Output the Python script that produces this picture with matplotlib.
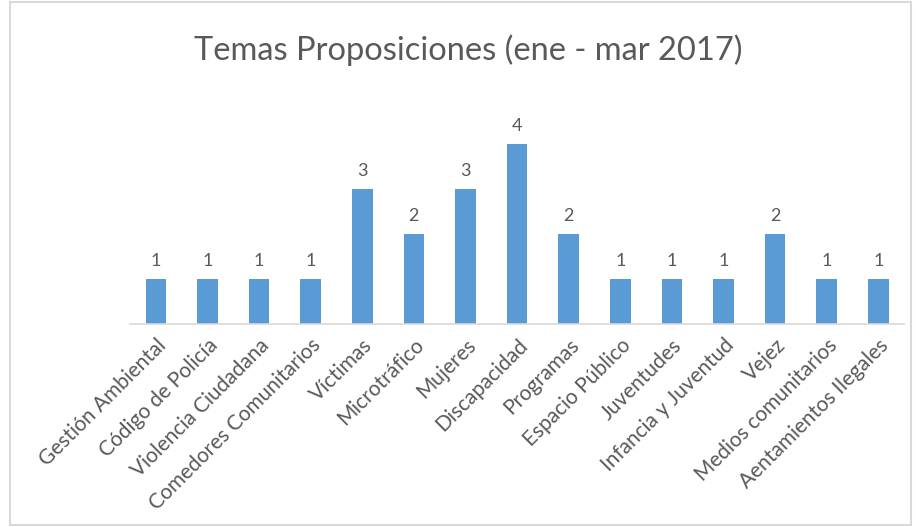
import matplotlib
matplotlib.use("Agg")
import matplotlib.pyplot as plt
from matplotlib.patches import Rectangle

categories = ["Gestión Ambiental", "Código de Policía", "Violencia Ciudadana",
              "Comedores Comunitarios", "Víctimas", "Microtráfico", "Mujeres",
              "Discapacidad", "Programas", "Espacio Público", "Juventudes",
              "Infancia y Juventud", "Vejez", "Medios comunitarios",
              "Aentamientos Ilegales"]
values = [1, 1, 1, 1, 3, 2, 3, 4, 2, 1, 1, 1, 2, 1, 1]
title = "Temas Proposiciones (ene - mar 2017)"

plt.rcParams['font.family'] = ['Lato', 'DejaVu Sans']
fig = plt.figure(figsize=(9.16, 5.27), dpi=100)
ax = fig.add_axes([0.142, 0.385, 0.845, 0.427])

x = list(range(len(categories)))
ax.bar(x, values, width=0.4, color="#5B9BD5", zorder=2)
for xi, v in zip(x, values):
    ax.text(xi, v + 0.22, str(v), ha='center', va='bottom', fontsize=13, color="#595959")

ax.set_xlim(-0.5, len(categories) - 0.5)
ax.set_ylim(0, 5)
ax.set_yticks([])
for s in ['top', 'right', 'left']:
    ax.spines[s].set_visible(False)
ax.spines['bottom'].set_color("#D9D9D9")
ax.spines['bottom'].set_linewidth(1.2)
ax.set_xticks(x)
ax.set_xticklabels(categories, rotation=45, ha='right', rotation_mode='anchor',
                   fontsize=15, color="#595959")
ax.tick_params(axis='x', length=0, pad=8)

fig.text(0.511, 0.905, title, ha='center', va='center', fontsize=23.5, color="#595959")
fig.patches.append(Rectangle((0.011, 0.004), 0.983, 0.992, transform=fig.transFigure,
                             fill=False, edgecolor="#D9D9D9", linewidth=1.5))
fig.savefig("out.png", dpi=100)
